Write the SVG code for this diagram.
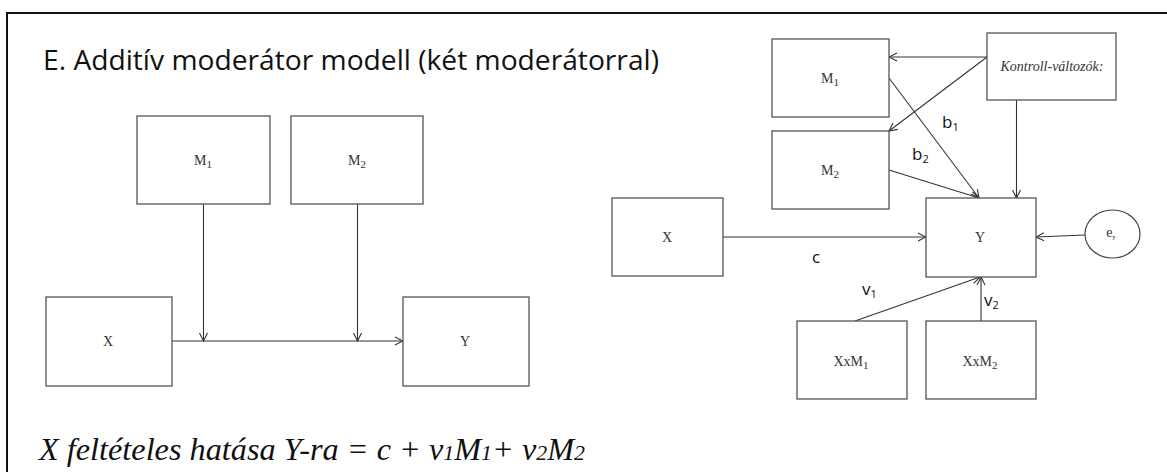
<svg xmlns="http://www.w3.org/2000/svg" width="1167" height="472" viewBox="0 0 1167 472">
<defs>
<style>
.box{fill:#fff;stroke:#555;stroke-width:1.3}
.ln{stroke:#333;stroke-width:1.1;fill:none}
.nt{font-family:"Liberation Serif",serif;font-size:14px;fill:#333;text-anchor:middle}
.lb{font-family:"Open Sans","Liberation Sans",sans-serif;font-size:17px;fill:#111}
.sub{font-size:11px}
</style>
<marker id="ah" markerWidth="10" markerHeight="10" refX="9" refY="5" orient="auto" markerUnits="userSpaceOnUse">
<path d="M1,1 L9,5 L1,9" fill="none" stroke="#333" stroke-width="1.1"/>
</marker>
</defs>
<rect width="1167" height="472" fill="#fff"/>
<path d="M7,472 V13 H1167" fill="none" stroke="#111" stroke-width="2"/>
<text x="43" y="70" font-family="Open Sans, Liberation Sans, sans-serif" font-size="27" fill="#111" textLength="616" lengthAdjust="spacingAndGlyphs">E. Additív moderátor modell (két moderátorral)</text>

<g id="connectors">
<line class="ln" x1="172" y1="341" x2="403" y2="341" marker-end="url(#ah)"/>
<line class="ln" x1="203.5" y1="204" x2="203.5" y2="341" marker-end="url(#ah)"/>
<line class="ln" x1="357.5" y1="204" x2="357.5" y2="341" marker-end="url(#ah)"/>
<line class="ln" x1="987" y1="57" x2="889" y2="57" marker-end="url(#ah)"/>
<line class="ln" x1="987" y1="57" x2="889" y2="131" marker-end="url(#ah)"/>
<line class="ln" x1="889" y1="78" x2="979" y2="198" marker-end="url(#ah)"/>
<line class="ln" x1="889" y1="170" x2="979" y2="198" marker-end="url(#ah)"/>
<line class="ln" x1="1016.5" y1="100" x2="1016.5" y2="198" marker-end="url(#ah)"/>
<line class="ln" x1="723" y1="237" x2="926" y2="237" marker-end="url(#ah)"/>
<line class="ln" x1="1085" y1="235" x2="1036" y2="237" marker-end="url(#ah)"/>
<line class="ln" x1="855" y1="321" x2="980" y2="277" marker-end="url(#ah)"/>
<line class="ln" x1="981" y1="321" x2="981" y2="277" marker-end="url(#ah)"/>
</g>

<g id="L_M1"><rect class="box" x="137" y="116" width="133" height="88"/><text class="nt" x="203" y="165">M<tspan class="sub" dy="3">1</tspan></text></g>
<g id="L_M2"><rect class="box" x="291" y="116" width="132" height="88"/><text class="nt" x="357" y="165">M<tspan class="sub" dy="3">2</tspan></text></g>
<g id="L_X"><rect class="box" x="46" y="297" width="126" height="89"/><text class="nt" x="108" y="346">X</text></g>
<g id="L_Y"><rect class="box" x="403" y="297" width="126" height="89"/><text class="nt" x="465" y="346">Y</text></g>

<g id="R_M1"><rect class="box" x="772" y="39" width="117" height="78"/><text class="nt" x="830" y="83">M<tspan class="sub" dy="3">1</tspan></text></g>
<g id="R_M2"><rect class="box" x="772" y="131" width="117" height="78"/><text class="nt" x="830" y="175">M<tspan class="sub" dy="3">2</tspan></text></g>
<g id="R_K"><rect class="box" x="987" y="33" width="129" height="67"/><text class="nt" x="1052" y="71" font-style="italic" font-size="12">Kontroll-változók:</text></g>
<g id="R_X"><rect class="box" x="612" y="198" width="111" height="78"/><text class="nt" x="667" y="242">X</text></g>
<g id="R_Y"><rect class="box" x="926" y="198" width="110" height="79"/><text class="nt" x="980" y="242">Y</text></g>
<g id="R_ey"><ellipse cx="1112.5" cy="234" rx="27.5" ry="24" fill="#fff" stroke="#444" stroke-width="1.2"/><text class="nt" x="1111" y="237" font-size="10">e<tspan font-size="7" dy="2">y</tspan></text></g>
<g id="R_XM1"><rect class="box" x="797" y="321" width="110" height="78"/><text class="nt" x="851" y="366">XxM<tspan class="sub" dy="3">1</tspan></text></g>
<g id="R_XM2"><rect class="box" x="926" y="321" width="110" height="78"/><text class="nt" x="980" y="366">XxM<tspan class="sub" dy="3">2</tspan></text></g>

<g id="labels">
<text class="lb" x="942" y="128">b<tspan class="sub" dy="3">1</tspan></text>
<text class="lb" x="912" y="160">b<tspan class="sub" dy="3">2</tspan></text>
<text class="lb" x="812" y="263">c</text>
<text class="lb" x="862" y="295">v<tspan class="sub" dy="3">1</tspan></text>
<text class="lb" x="984" y="306">v<tspan class="sub" dy="3">2</tspan></text>
</g>

<text x="39" y="460" font-family="Liberation Serif, serif" font-style="italic" font-size="31" fill="#111" textLength="546" lengthAdjust="spacingAndGlyphs">X feltételes hatása Y-ra = c + v<tspan font-size="21">1</tspan>M<tspan font-size="21">1</tspan>+ v<tspan font-size="21">2</tspan>M<tspan font-size="21">2</tspan></text>
</svg>
